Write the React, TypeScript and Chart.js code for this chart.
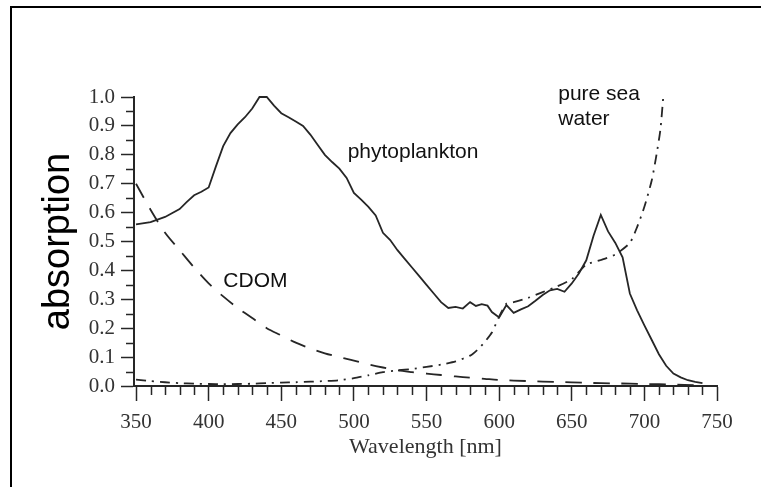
import React, { useEffect, useRef } from 'react';
import { Chart, registerables } from 'chart.js';

Chart.register(...registerables);

// ---- Data ----
const phytoWavelengths = [
  350, 360, 370, 380, 385, 390, 395, 400, 405, 410, 415, 420, 425, 430, 435, 440,
  445, 450, 455, 460, 465, 470, 475, 480, 485, 490, 495, 500, 505, 510, 515, 520,
  525, 530, 535, 540, 545, 550, 555, 560, 565, 570, 575, 580, 584, 588, 592, 595,
  600, 605, 610, 615, 620, 625, 630, 635, 640, 645, 650, 655, 660, 665, 670, 675,
  680, 685, 690, 695, 700, 705, 710, 715, 720, 725, 730, 735, 740,
];
const phytoplankton = [
  0.559, 0.567, 0.585, 0.612, 0.637, 0.66, 0.672, 0.687, 0.76, 0.83, 0.875, 0.905, 0.93, 0.96, 1.0, 1.0,
  0.97, 0.944, 0.93, 0.915, 0.9, 0.87, 0.835, 0.8, 0.775, 0.752, 0.72, 0.668, 0.645, 0.62, 0.59, 0.53,
  0.505, 0.47, 0.44, 0.41, 0.38, 0.35, 0.32, 0.29, 0.27, 0.274, 0.268, 0.29, 0.277, 0.283, 0.278, 0.256,
  0.237, 0.28, 0.253, 0.265, 0.276, 0.295, 0.315, 0.331, 0.336, 0.326, 0.355, 0.39, 0.435, 0.52, 0.592, 0.535,
  0.495, 0.445, 0.32, 0.262, 0.21, 0.16, 0.11, 0.07, 0.043, 0.03, 0.02, 0.014, 0.01,
];

const cdomWavelengths = [
  350, 360, 370, 380, 390, 400, 410, 420, 430, 440, 450, 460, 470, 480, 490, 500,
  510, 520, 530, 540, 550, 560, 570, 580, 590, 600, 620, 640, 660, 680, 700, 720, 735,
];
const cdom = [
  0.7, 0.61, 0.53, 0.47, 0.41, 0.355, 0.31, 0.27, 0.235, 0.2, 0.175, 0.15, 0.13, 0.113, 0.1, 0.088,
  0.075, 0.064, 0.054, 0.048, 0.043, 0.038, 0.033, 0.029, 0.025, 0.021, 0.017, 0.014, 0.011, 0.009, 0.007, 0.005, 0.003,
];

const waterWavelengths = [
  350, 360, 370, 380, 390, 400, 410, 420, 430, 440, 450, 460, 470, 480, 490, 500,
  510, 520, 530, 540, 550, 560, 570, 580, 585, 590, 595, 600, 605, 610, 620, 630,
  640, 650, 660, 670, 680, 690, 695, 700, 705, 708, 711, 713,
];
const pureSeaWater = [
  0.022, 0.017, 0.013, 0.01, 0.008, 0.007, 0.006, 0.007, 0.008, 0.01, 0.012, 0.013, 0.015, 0.017, 0.02, 0.027,
  0.037, 0.048, 0.054, 0.059, 0.066, 0.074, 0.085, 0.105, 0.125, 0.152, 0.185, 0.24, 0.285, 0.29, 0.305, 0.325,
  0.345, 0.37, 0.42, 0.436, 0.455, 0.495, 0.55, 0.62, 0.71, 0.79, 0.886, 1.0,
];

const xTickValues = [350, 400, 450, 500, 550, 600, 650, 700, 750];
const yTickValues = [0, 0.1, 0.2, 0.3, 0.4, 0.5, 0.6, 0.7, 0.8, 0.9, 1.0];
const xMinorStep = 10;
const yMinorStep = 0.05;

const annotations = [
  { text: 'phytoplankton', x: 495.7, y: 0.789 },
  { text: 'pure sea', x: 640.7, y: 0.99 },
  { text: 'water', x: 640.7, y: 0.903 },
  { text: 'CDOM', x: 410.1, y: 0.342 },
];

const toPoints = (xs: number[], ys: number[]) => xs.map((x, i) => ({ x, y: ys[i] }));

const INK = '#262626';
const SERIF = "'Liberation Serif', 'Times New Roman', serif";
const SANS = "'Liberation Sans', Arial, sans-serif";

const framePlugin = {
  id: 'frame',
  beforeDraw(chart: any) {
    const ctx = chart.ctx;
    ctx.save();
    ctx.fillStyle = '#ffffff';
    ctx.fillRect(0, 0, chart.width, chart.height);
    ctx.strokeStyle = '#000000';
    ctx.lineWidth = 2;
    ctx.beginPath();
    ctx.moveTo(chart.width + 5, 7);
    ctx.lineTo(11, 7);
    ctx.lineTo(11, chart.height + 5);
    ctx.stroke();
    ctx.restore();
  },
};

const minorTicksPlugin = {
  id: 'minorTicks',
  afterDraw(chart: any) {
    const ctx = chart.ctx;
    const xs = chart.scales.x;
    const ys = chart.scales.y;
    const area = chart.chartArea;
    ctx.save();
    ctx.strokeStyle = INK;
    ctx.lineWidth = 1.5;
    ctx.beginPath();
    for (let v = xTickValues[0]; v <= xTickValues[xTickValues.length - 1] + 0.001; v += xMinorStep) {
      if (Math.abs(v % 50) < 0.001) continue;
      const px = Math.round(xs.getPixelForValue(v)) + 0.5;
      ctx.moveTo(px, area.bottom);
      ctx.lineTo(px, area.bottom + 9);
    }
    for (let i = 0; i < yTickValues.length - 1; i++) {
      const v = yTickValues[i] + yMinorStep;
      const py = Math.round(ys.getPixelForValue(v)) + 0.5;
      ctx.moveTo(area.left, py);
      ctx.lineTo(area.left - 8, py);
    }
    ctx.stroke();
    ctx.restore();
  },
};

const annotationPlugin = {
  id: 'annotationsText',
  afterDraw(chart: any) {
    const ctx = chart.ctx;
    const xs = chart.scales.x;
    const ys = chart.scales.y;
    ctx.save();
    ctx.fillStyle = '#111111';
    ctx.font = `21px ${SANS}`;
    ctx.textAlign = 'left';
    ctx.textBaseline = 'alphabetic';
    annotations.forEach((a) => {
      ctx.fillText(a.text, xs.getPixelForValue(a.x), ys.getPixelForValue(a.y));
    });
    ctx.restore();
  },
};

export default function App() {
  const canvasRef = useRef<HTMLCanvasElement | null>(null);

  useEffect(() => {
    if (!canvasRef.current) return;
    const chart = new Chart(canvasRef.current, {
      type: 'line',
      data: {
        datasets: [
          {
            label: 'phytoplankton',
            data: toPoints(phytoWavelengths, phytoplankton),
            borderColor: INK,
            borderWidth: 1.8,
            pointRadius: 0,
            tension: 0,
            fill: false,
          },
          {
            label: 'CDOM',
            data: toPoints(cdomWavelengths, cdom),
            borderColor: INK,
            borderWidth: 1.8,
            borderDash: [16, 12],
            pointRadius: 0,
            tension: 0.3,
            fill: false,
          },
          {
            label: 'pure sea water',
            data: toPoints(waterWavelengths, pureSeaWater),
            borderColor: INK,
            borderWidth: 1.8,
            borderDash: [10, 6, 2, 6],
            pointRadius: 0,
            tension: 0.2,
            fill: false,
          },
        ],
      },
      options: {
        animation: false,
        responsive: false,
        devicePixelRatio: 1,
        clip: false,
        layout: { padding: { top: 97, right: 44, bottom: 0, left: 0 } },
        plugins: {
          legend: { display: false },
          tooltip: { enabled: false },
        },
        scales: {
          x: {
            type: 'linear',
            min: 348.6,
            max: 750,
            afterBuildTicks: (axis: any) => {
              axis.ticks = xTickValues.map((v) => ({ value: v }));
            },
            afterFit: (scale: any) => {
              scale.height = 101;
            },
            grid: {
              drawOnChartArea: false,
              drawTicks: true,
              tickLength: 15,
              tickWidth: 1.5,
              tickColor: INK,
            },
            border: { display: true, color: INK, width: 2 },
            ticks: {
              color: '#333333',
              font: { family: SERIF, size: 21 },
              padding: 9,
              maxRotation: 0,
              callback: (v: any) => String(v),
            },
            title: {
              display: true,
              text: 'Wavelength [nm]',
              color: '#333333',
              font: { family: SERIF, size: 22 },
              padding: { top: 0, bottom: 27 },
            },
          },
          y: {
            type: 'linear',
            min: 0,
            max: 1,
            afterBuildTicks: (axis: any) => {
              axis.ticks = yTickValues.map((v) => ({ value: v }));
            },
            afterFit: (scale: any) => {
              scale.width = 134;
            },
            grid: {
              drawOnChartArea: false,
              drawTicks: true,
              tickLength: 13,
              tickWidth: 1.5,
              tickColor: INK,
            },
            border: { display: true, color: INK, width: 2 },
            ticks: {
              color: '#333333',
              font: { family: SERIF, size: 21 },
              padding: 6,
              callback: (v: any) => Number(v).toFixed(1),
            },
            title: {
              display: true,
              text: 'absorption',
              color: '#000000',
              font: { family: SANS, size: 38 },
              padding: { top: 36, bottom: 0 },
            },
          },
        },
      },
      plugins: [framePlugin, minorTicksPlugin, annotationPlugin],
    } as any);
    return () => chart.destroy();
  }, []);

  return (
    <div style={{ position: 'fixed', left: 0, top: 0, width: 761, height: 487, background: '#fff' }}>
      <canvas ref={canvasRef} width={761} height={487} style={{ display: 'block', width: 761, height: 487 }} />
    </div>
  );
}
